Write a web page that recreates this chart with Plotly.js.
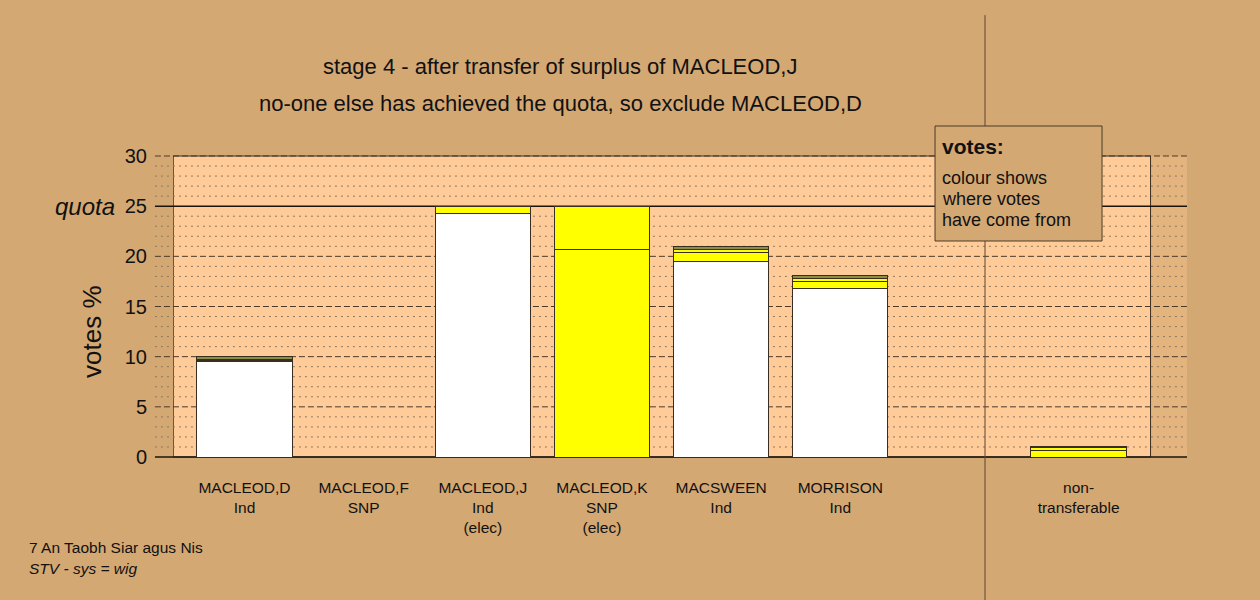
<!DOCTYPE html>
<html>
<head>
<meta charset="utf-8">
<script src="https://cdn.plot.ly/plotly-3.0.1.min.js"></script>
<style>html,body{margin:0;padding:0;background:#D4A873;}</style>
</head>
<body>
<div id="chart" style="width:1260px;height:600px;"></div>
<script>
// ---- data ----
const positions = [0, 1, 2, 3, 4, 5, 6, 7];
const tickLabels = ["MACLEOD,D<br>Ind", "MACLEOD,F<br>SNP", "MACLEOD,J<br>Ind<br>(elec)", "MACLEOD,K<br>SNP<br>(elec)", "MACSWEEN<br>Ind", "MORRISON<br>Ind", "", "non-<br>transferable"];
// vote segments (% of votes), stacked bottom to top
const ownVotes     = [9.5, 0, 24.3, 20.7, 19.5, 16.75, 0, 0];
const fromMacleodF = [0.1, 0, 0,    4.3,  0.9,  0.7,   0, 0.65];
const fromMacleodK = [0.1, 0, 0.7,  0,    0.3,  0.3,   0, 0.25];
const fromMacleodJ = [0.35, 0, 0,   0,    0.25, 0.3,   0, 0.1];
const ownColours   = ["#FFFFFF", "#FFFF00", "#FFFFFF", "#FFFF00", "#FFFFFF", "#FFFFFF", "#FFFFFF", "#FFFF00"];
const yTicks = [0, 5, 10, 15, 20, 25, 30];
const quota = 25;
const yMax = 30;

const BG = "#D4A873";
const PLOTBG = "#FFCC99";
const EDGE = "#3a2e22";

function barTrace(vals, colour) {
  return {
    type: "bar", x: positions, y: vals, width: 0.8,
    marker: {color: colour, line: {color: EDGE, width: 1}},
    hoverinfo: "skip", showlegend: false
  };
}
const traces = [
  barTrace(ownVotes, ownColours),
  barTrace(fromMacleodF, "#FFFF00"),
  barTrace(fromMacleodK, "#FFFF00"),
  barTrace(fromMacleodJ, "#8a9040")
];

const shapes = [];
// plot background panel
shapes.push({type: "rect", xref: "x", yref: "paper", x0: -0.598, x1: 7.604, y0: 0, y1: 1,
  fillcolor: PLOTBG, line: {color: EDGE, width: 1}, layer: "below"});
// grid lines (minor dotted every 1, major dashed every 5)
for (let v = 1; v < yMax; v++) {
  if (v === quota) continue;
  const major = v % 5 === 0;
  shapes.push({type: "line", xref: "paper", yref: "y", x0: -0.0178, x1: 1, y0: v, y1: v,
    line: {color: major ? "#4a3a2a" : "#8f785e", width: 1, dash: major ? "6px,3px" : "2px,4px"}, layer: "below"});
}
// top dashed
shapes.push({type: "line", xref: "paper", yref: "paper", x0: -0.0178, x1: 1, y0: 1, y1: 1,
  line: {color: "#4a3a2a", width: 1, dash: "6px,3px"}, layer: "below"});
// quota line
shapes.push({type: "line", xref: "paper", yref: "y", x0: -0.0178, x1: 1, y0: quota, y1: quota,
  line: {color: "#1a1410", width: 1.5}, layer: "below"});
// baseline
shapes.push({type: "line", xref: "paper", yref: "paper", x0: -0.0178, x1: 1, y0: 0, y1: 0,
  line: {color: "#1a1410", width: 1.5}, layer: "below"});
// separator
shapes.push({type: "line", xref: "paper", yref: "paper", x0: 0.8008, x1: 0.8008, y0: -0.475, y1: 1.468,
  line: {color: "#5a4632", width: 1}, layer: "below"});
// info box
shapes.push({type: "rect", xref: "paper", yref: "paper", x0: 0.7515, x1: 0.9162, y0: 0.7176, y1: 1.0997,
  fillcolor: BG, line: {color: "#4a3a2a", width: 1}, layer: "above"});

function note(text, x, y, size, xanchor, extra) {
  return Object.assign({text: text, xref: "paper", yref: "paper", x: x, y: y, xanchor: xanchor, yanchor: "middle",
    showarrow: false, font: {size: size}}, extra || {});
}
const annotations = [
  note("stage 4 - after transfer of surplus of MACLEOD,J", 0.3817, 1.299, 22, "center"),
  note("no-one else has achieved the quota, so exclude MACLEOD,D", 0.3817, 1.176, 22, "center"),
  note("<i>quota</i>", -0.0552, quota, 24, "right", {yref: "y"}),
  note("votes %", -0.0799, 0.4186, 26, "center", {textangle: -90}),
  note("<b>votes:</b>", 0.7564, 1.0332, 21, "left"),
  note("colour shows", 0.7564, 0.9265, 18, "left"),
  note("where votes", 0.7564, 0.8568, 18, "left"),
  note("have come from", 0.7564, 0.7870, 18, "left"),
  note("7 An Taobh Siar agus Nis", -0.1440, -0.302, 15.5, "left"),
  note("<i>STV - sys = wig</i>", -0.1440, -0.369, 15.5, "left")
];

const layout = {
  width: 1260, height: 600,
  margin: {l: 173, r: 73, t: 156, b: 143},
  paper_bgcolor: BG, plot_bgcolor: "#E4B47F",
  font: {family: "Liberation Sans, Arial, sans-serif", color: "#111111"},
  barmode: "stack", bargap: 0.2,
  xaxis: {range: [-0.6, 7.91], tickvals: positions, ticktext: tickLabels, ticks: "", showgrid: false,
    zeroline: false, showline: false, tickfont: {size: 15.5}, ticklabelstandoff: 19, fixedrange: true},
  yaxis: {range: [0, yMax], tickvals: yTicks, ticks: "", showgrid: false, zeroline: false,
    showline: false, tickfont: {size: 20}, ticklabelstandoff: 25, fixedrange: true},
  shapes: shapes,
  annotations: annotations
};

Plotly.newPlot("chart", traces, layout, {displayModeBar: false, staticPlot: true});
</script>
</body>
</html>
